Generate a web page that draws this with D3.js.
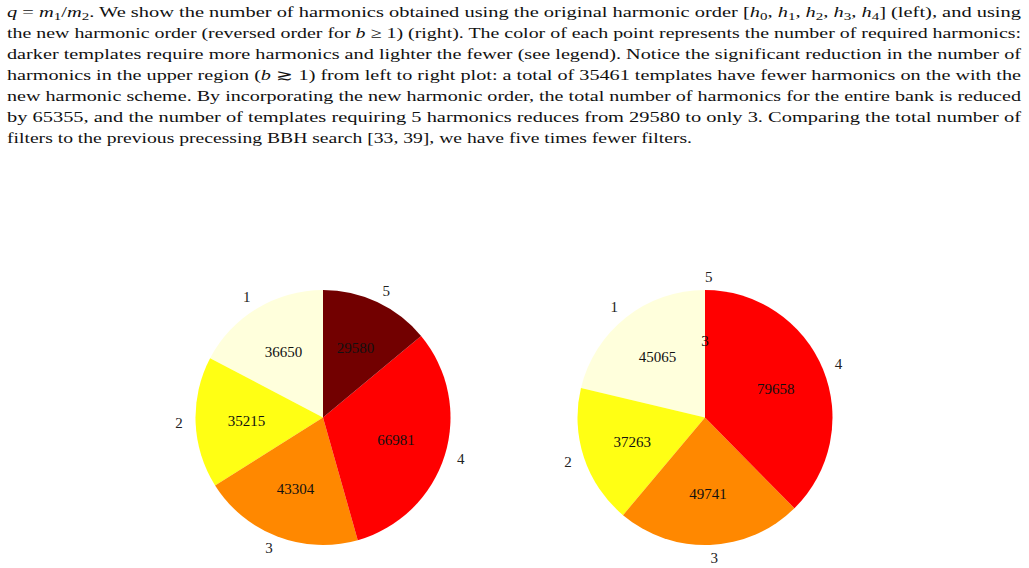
<!DOCTYPE html>
<html>
<head>
<meta charset="utf-8">
<script src="https://cdn.jsdelivr.net/npm/d3@7"></script>
<style>
html,body{margin:0;padding:0;background:#fff;}
svg{display:block;}
</style>
</head>
<body>
<svg id="chart" width="1029" height="568"></svg>
<script>
// ---- data ----
const categories = ["1", "2", "3", "4", "5"];
const leftValues = [36650, 35215, 43304, 66981, 29580];
const rightValues = [45065, 37263, 49741, 79658, 3];
const sliceColors = ["#ffffdc", "#ffff14", "#ff8800", "#ff0000", "#720000"];

// caption lines: each line is a list of [text, style] segments
const captionLines = [
  [["q","i"],[" = ",""],["m","i"],["1","sub"],["/",""],["m","i"],["2","sub"],[". We show the number of harmonics obtained using the original harmonic order [",""],["h","i"],["0","sub"],[", ",""],["h","i"],["1","sub"],[", ",""],["h","i"],["2","sub"],[", ",""],["h","i"],["3","sub"],[", ",""],["h","i"],["4","sub"],["] (left), and using",""]],
  [["the new harmonic order (reversed order for ",""],["b","i"],[" ≥ 1) (right). The color of each point represents the number of required harmonics:",""]],
  [["darker templates require more harmonics and lighter the fewer (see legend). Notice the significant reduction in the number of",""]],
  [["harmonics in the upper region (",""],["b","i"],[" ≳ 1) from left to right plot: a total of 35461 templates have fewer harmonics on the with the",""]],
  [["new harmonic scheme. By incorporating the new harmonic order, the total number of harmonics for the entire bank is reduced",""]],
  [["by 65355, and the number of templates requiring 5 harmonics reduces from 29580 to only 3. Comparing the total number of",""]],
  [["filters to the previous precessing BBH search [33, 39], we have five times fewer filters.",""]]
];

const svg = d3.select("#chart");

// ---- caption ----
const lineY = d3.scaleLinear().domain([0, 6]).range([17, 143]);
const capLeft = 7, capRight = 1021;
const cap = svg.append("g").attr("font-family", "'Liberation Serif', 'Times New Roman', serif")
  .attr("font-size", 15).attr("fill", "#111");
captionLines.forEach((segs, i) => {
  const t = cap.append("text")
    .attr("x", capLeft).attr("y", lineY(i))
    .attr("lengthAdjust", "spacingAndGlyphs")
    .attr("textLength", i < captionLines.length - 1 ? capRight - capLeft : 685);
  let inSub = false;
  segs.forEach(([s, st]) => {
    const ts = t.append("tspan").text(s);
    if (st === "i") ts.attr("font-style", "italic");
    if (st === "sub") { ts.attr("font-size", 11).attr("dy", 3); inSub = true; }
    else if (inSub) { ts.attr("dy", -3); inSub = false; }
  });
});

// ---- pies ----
const R = 127.5;
const pie = d3.pie().sort(null).startAngle(0).endAngle(-2 * Math.PI);
const arc = d3.arc().innerRadius(0).outerRadius(R);
const labelArc = d3.arc().innerRadius(R * 1.1).outerRadius(R * 1.1);
const pctArc = d3.arc().innerRadius(R * 0.6).outerRadius(R * 0.6);
const color = d3.scaleOrdinal().domain(categories).range(sliceColors);

function drawPie(cx, cy, values) {
  const data = categories.map((c, i) => ({cat: c, value: values[i]}));
  const arcs = pie.value(d => d.value)(data);
  const g = svg.append("g").attr("transform", `translate(${cx},${cy})`);
  g.selectAll("path.slice").data(arcs).join("path")
    .attr("class", "slice")
    .attr("d", arc)
    .attr("fill", d => color(d.data.cat));
  g.selectAll("text.cat").data(arcs).join("text")
    .attr("class", "cat")
    .attr("transform", d => `translate(${labelArc.centroid(d)})`)
    .attr("text-anchor", d => labelArc.centroid(d)[0] > 0 ? "start" : "end")
    .attr("dominant-baseline", "central")
    .attr("font-family", "'Liberation Serif', serif").attr("font-size", 15)
    .attr("fill", "#222")
    .text(d => d.data.cat);
  g.selectAll("text.val").data(arcs).join("text")
    .attr("class", "val")
    .attr("transform", d => `translate(${pctArc.centroid(d)})`)
    .attr("text-anchor", "middle").attr("dominant-baseline", "central")
    .attr("font-family", "'Liberation Serif', serif").attr("font-size", 15)
    .attr("fill", "#111")
    .text(d => d.data.value);
}

drawPie(323, 417.5, leftValues);
drawPie(705, 417.5, rightValues);
</script>
</body>
</html>
